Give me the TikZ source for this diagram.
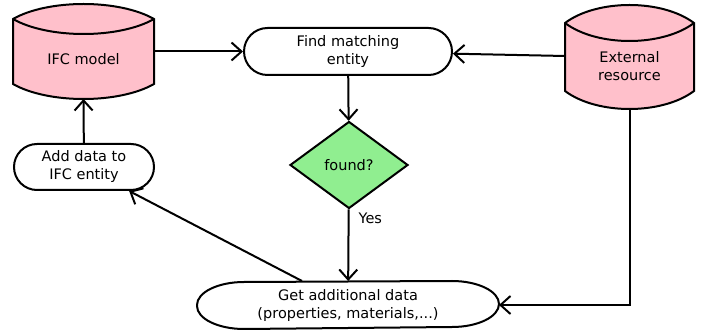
\documentclass[tikz,border=0pt]{standalone}
\usepackage{fontspec}
\setmainfont{DejaVu Sans}
\usetikzlibrary{shapes.geometric,shapes.misc,arrows.meta,backgrounds}
\definecolor{storepink}{RGB}{255,192,203}
\definecolor{testgreen}{RGB}{144,238,144}
\tikzset{every node/.style={font=\fontsize{14.5}{18}\selectfont,align=center,inner sep=0pt}}

% outline of a data store behind node #1, #2 = bulge of the curves, #3 = quarter width
\newcommand{\drum}[3]{%
  \filldraw[fill=storepink,line width=2pt] ([yshift=#2pt]#1.north west) .. controls +(#3,{4/3*#2}) and +(-#3,{4/3*#2}) .. ([yshift=#2pt]#1.north east)
    -- (#1.south east) .. controls +(-#3,{-4/3*#2}) and +(#3,{-4/3*#2}) .. (#1.south west) -- cycle;
  \draw[line width=2pt] ([yshift=#2pt]#1.north west) .. controls +(#3,{-4/3*#2}) and +(-#3,{-4/3*#2}) .. ([yshift=#2pt]#1.north east);
}

\begin{document}
\begin{tikzpicture}[x=1pt,y=1pt,line width=2pt,>={Straight Barb[length=10pt,width=18pt]}]
\useasboundingbox (0,0) rectangle (703,329);

\tikzstyle{store}=[shape=rectangle]
\tikzstyle{term}=[rounded rectangle,draw]
\tikzstyle{test}=[diamond,draw,fill=testgreen,aspect=1.36,minimum width=118pt,minimum height=87pt]

\node[store,minimum width=139pt,minimum height=48pt] (ifc) at (83.5,270) {IFC model};
\node[store,minimum width=127pt,minimum height=48pt] (ext) at (629.5,263) {External\\resource};
\node[term,minimum width=208pt,minimum height=47pt] (find) at (348,277.5) {Find matching\\entity};
\node[test] (found) at (349,164) {found?};
\node[term,minimum width=140pt,minimum height=46pt] (add) at (84,162) {Add data to\\IFC entity};
\node[minimum width=300pt,minimum height=46pt] (get) at (348,24) {Get additional data\\(properties, materials,...)};

\begin{scope}[on background layer]
\drum{ifc}{15}{35}
\drum{ext}{18}{32}
\end{scope}

% the get node has elliptic ends
\draw (get.west) arc[start angle=180,end angle=90,x radius=47pt,y radius=23pt]
  -- ([xshift=-47pt]get.north east)
  arc[start angle=90,end angle=-90,x radius=47pt,y radius=23pt]
  -- ([xshift=47pt]get.south west)
  arc[start angle=270,end angle=180,x radius=47pt,y radius=23pt] -- cycle;

\draw[->] (ifc.east |- find) -- (find);
\draw[->] ([yshift=10pt]ext.west) -- (find);
\draw[->] (find) -- (found);
\draw[->] (found) -- (get) node[pos=0.13,right,xshift=9pt] {Yes};
\draw[->] ([yshift=-18pt]ext.south) |- (get);
\draw[->] ([xshift=-46pt]get.north) -- (add.-28);
\draw[->] (add) -- ([yshift=-15pt]ifc.south);

\end{tikzpicture}
\end{document}
